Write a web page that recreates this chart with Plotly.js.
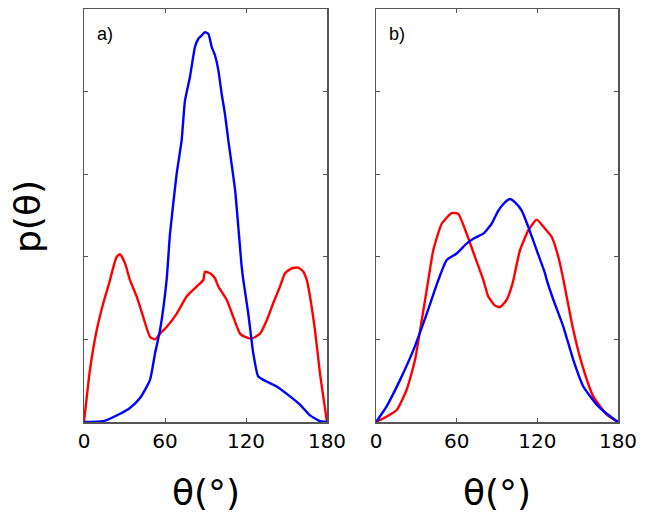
<!DOCTYPE html>
<html>
<head>
<meta charset="utf-8">
<script src="https://cdn.plot.ly/plotly-3.0.1.min.js"></script>
<style>html,body{margin:0;padding:0;background:#fff;}#chart{width:649px;height:521px;}</style>
</head>
<body>
<div id="chart"></div>
<script>
// Panel a) blue
const aBlueTheta = [0, 14.3, 26.7, 34, 41.5, 48.9, 52.6, 56.3, 61.2, 63.7, 68.6, 72.3, 74.8, 78.5, 82.2, 84.7, 87.2, 89.6, 92.1, 94.6, 97, 99.5, 102, 104.4, 106.9, 111.9, 116.8, 118, 121.7, 125.4, 129.1, 135.3, 142.7, 152.6, 160, 167.4, 174.8, 180];
const aBlueP = [0, 0.01, 0.1, 0.17, 0.29, 0.51, 0.83, 1.11, 1.72, 2.28, 3.0, 3.41, 3.89, 4.18, 4.54, 4.64, 4.68, 4.72, 4.70, 4.54, 4.44, 4.26, 3.97, 3.73, 3.41, 2.81, 1.88, 1.72, 1.31, 0.83, 0.55, 0.49, 0.43, 0.31, 0.21, 0.08, 0.01, 0];
// Panel a) red
const aRedTheta = [0, 4.4, 9.4, 14.3, 19.3, 20.5, 24.2, 26.7, 30.4, 34, 39, 43.9, 48.9, 52.6, 56.3, 61.2, 68.6, 76, 83.4, 88.4, 89.6, 93.3, 97, 99.5, 105.7, 110.6, 115.6, 119.3, 124.2, 130.4, 135.3, 140.2, 145.2, 148.9, 153.8, 158.7, 162.5, 165, 167.4, 171.1, 174.8, 180];
const aRedP = [0, 0.63, 1.11, 1.44, 1.72, 1.80, 2.0, 2.03, 1.92, 1.72, 1.52, 1.27, 1.03, 1.0, 1.07, 1.15, 1.31, 1.52, 1.64, 1.72, 1.82, 1.80, 1.74, 1.64, 1.48, 1.27, 1.07, 1.03, 1.01, 1.07, 1.23, 1.44, 1.64, 1.80, 1.86, 1.87, 1.82, 1.72, 1.52, 1.11, 0.59, 0];
// Panel b) red
const bRedTheta = [0, 7.9, 15.4, 22.8, 29, 34, 37.7, 38.9, 42.6, 48.9, 56.3, 61.2, 67.4, 73.6, 79.8, 83.5, 88.5, 92.2, 97.2, 100.9, 102.2, 107.1, 113.3, 119.5, 125.7, 130.7, 135.6, 139.4, 141.8, 146.8, 153, 161.6, 171.6, 180];
const bRedP = [0, 0.065, 0.145, 0.39, 0.75, 1.23, 1.60, 1.72, 2.08, 2.40, 2.53, 2.52, 2.28, 2.0, 1.72, 1.52, 1.41, 1.39, 1.48, 1.64, 1.72, 2.08, 2.32, 2.45, 2.34, 2.24, 2.0, 1.72, 1.52, 1.11, 0.71, 0.31, 0.09, 0];
// Panel b) blue
const bBlueTheta = [0, 7.9, 17.9, 27.8, 37.7, 46.4, 52.6, 60, 67.4, 73.6, 79.8, 86, 91, 95.9, 99.7, 103.4, 108.4, 113.3, 119.5, 125.7, 127, 131.9, 139.4, 146.8, 154.2, 164.2, 171.6, 180];
const bBlueP = [0, 0.19, 0.51, 0.87, 1.31, 1.72, 1.96, 2.04, 2.16, 2.23, 2.28, 2.40, 2.56, 2.66, 2.70, 2.66, 2.56, 2.36, 2.08, 1.80, 1.72, 1.48, 1.15, 0.75, 0.43, 0.21, 0.10, 0];

const xTicks = [0, 60, 120, 180];
const xTickText = ['0', '60', '120', '180'];
const yTicks = [0, 1, 2, 3, 4, 5];
const panelLabels = ['a)', 'b)'];
const xTitle = 'θ(°)';
const yTitle = 'p(θ)';

const frame = '#555555';
const font = 'DejaVu Sans, sans-serif';
const labelFont = 'Liberation Sans, Arial, sans-serif';

function line(x, y, color, xa, ya) {
  return {x: x, y: y, type: 'scatter', mode: 'lines', xaxis: xa, yaxis: ya,
    line: {color: color, width: 2.4, shape: 'spline', smoothing: 0.5}, hoverinfo: 'skip', showlegend: false};
}

const data = [
  line(aRedTheta, aRedP, '#ff0000', 'x', 'y'),
  line(aBlueTheta, aBlueP, '#0000ff', 'x', 'y'),
  line(bRedTheta, bRedP, '#ff0000', 'x2', 'y2'),
  line(bBlueTheta, bBlueP, '#0000ff', 'x2', 'y2')
];

function xaxis(dom, anchor) {
  return {domain: dom, anchor: anchor, range: [0, 180], tickvals: xTicks, ticktext: xTickText,
    ticks: 'inside', ticklen: 4, tickwidth: 1, tickcolor: frame,
    showline: true, linecolor: frame, linewidth: 1.5, mirror: 'ticks',
    showgrid: false, zeroline: false, fixedrange: true,
    tickfont: {family: font, size: 20, color: '#000'}};
}
function yaxis(anchor) {
  return {domain: [0, 1], anchor: anchor, range: [0, 5], tickvals: yTicks,
    showticklabels: false, ticks: 'inside', ticklen: 4, tickwidth: 1, tickcolor: frame,
    showline: true, linecolor: frame, linewidth: 1.5, mirror: 'ticks',
    showgrid: false, zeroline: false, fixedrange: true};
}

const layout = {
  width: 649, height: 521,
  margin: {l: 0, r: 0, t: 9, b: 99},
  paper_bgcolor: '#ffffff', plot_bgcolor: '#ffffff',
  showlegend: false,
  xaxis: xaxis([84/649, 327/649], 'y'),
  yaxis: yaxis('x'),
  xaxis2: xaxis([376/649, 618/649], 'y2'),
  yaxis2: yaxis('x2'),
  annotations: [
    {text: panelLabels[0], xref: 'x domain', yref: 'paper', x: 0.086, y: 0.94, xanchor: 'center', yanchor: 'middle', showarrow: false, font: {family: labelFont, size: 18, color: '#000'}},
    {text: panelLabels[1], xref: 'x2 domain', yref: 'paper', x: 0.086, y: 0.94, xanchor: 'center', yanchor: 'middle', showarrow: false, font: {family: labelFont, size: 18, color: '#000'}},
    {text: xTitle, xref: 'x domain', yref: 'paper', x: 0.5, y: -0.171, xanchor: 'center', yanchor: 'middle', showarrow: false, font: {family: font, size: 36, color: '#000'}},
    {text: xTitle, xref: 'x2 domain', yref: 'paper', x: 0.5, y: -0.171, xanchor: 'center', yanchor: 'middle', showarrow: false, font: {family: font, size: 36, color: '#000'}},
    {text: yTitle, xref: 'paper', yref: 'paper', x: 28/649, y: (422-217)/413, xanchor: 'center', yanchor: 'middle', textangle: -90, showarrow: false, font: {family: font, size: 36, color: '#000'}}
  ]
};

Plotly.newPlot('chart', data, layout, {displayModeBar: false, staticPlot: true});
</script>
</body>
</html>
